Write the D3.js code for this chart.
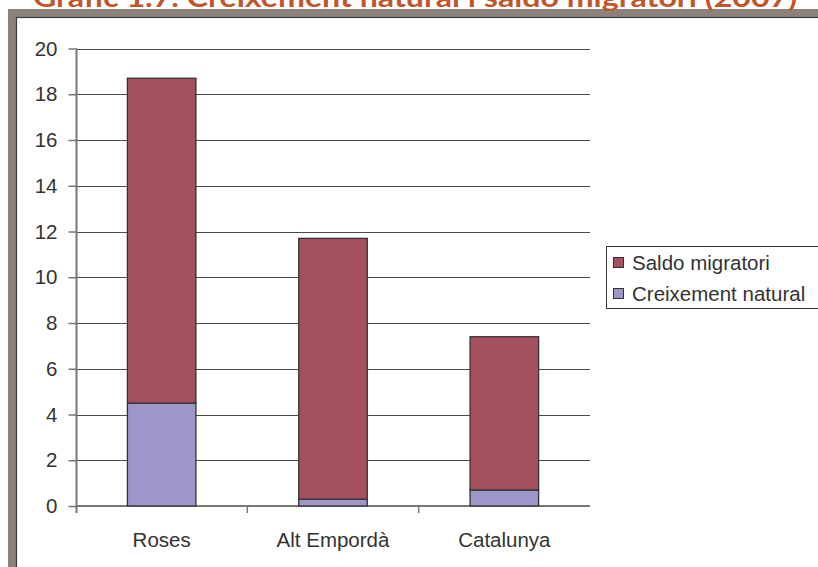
<!DOCTYPE html>
<html>
<head>
<meta charset="utf-8">
<script src="https://cdn.jsdelivr.net/npm/d3@7"></script>
<style>
  html, body { margin: 0; padding: 0; background: #fff; overflow: hidden; }
  svg { display: block; }
</style>
</head>
<body>
<svg id="chart" width="818" height="567"></svg>
<script>
// Data
const categories = ['Roses', 'Alt Empordà', 'Catalunya'];
const creixementNatural = [4.5, 0.3, 0.7];
const saldoMigratori = [14.2, 11.4, 6.7];
const yTicks = [0, 2, 4, 6, 8, 10, 12, 14, 16, 18, 20];
const seriesNames = ['Saldo migratori', 'Creixement natural'];
const title = 'Gràfic 1.7. Creixement natural i saldo migratori (2007)';

const colors = { saldo: '#a5505f', creix: '#9c96c9' };

const svg = d3.select('#chart');
const width = 818;
const height = 567;

// Frame
svg.append('rect')
    .attr('x', 8).attr('y', 9)
    .attr('width', width).attr('height', height)
    .attr('fill', '#8e807b');

svg.append('rect')
    .attr('x', 16.5).attr('y', 17.5)
    .attr('width', width).attr('height', height)
    .attr('fill', '#fff')
    .attr('stroke', '#3c3c3c')
    .attr('stroke-width', 1.2);

// Title (clipped at the top in the original)
svg.append('text')
    .attr('x', 33)
    .attr('y', 7)
    .attr('textLength', 764)
    .attr('lengthAdjust', 'spacingAndGlyphs')
    .style('font', 'bold 26px Lato, "Open Sans", sans-serif')
    .style('fill', '#c0562c')
    .text(title);

// Plot area
const margin = { left: 76, top: 48.5, right: 590, bottom: 506 };

const x = d3.scaleBand()
    .domain(categories)
    .range([margin.left, margin.right])
    .padding(0);

const y = d3.scaleLinear()
    .domain([0, 20])
    .range([margin.bottom, margin.top]);

const font = '20.5px "Liberation Sans", Arial, sans-serif';
const textColor = '#333';

// Gridlines
svg.append('g')
    .selectAll('line')
    .data(yTicks.filter(d => d > 0))
    .enter()
    .append('line')
    .attr('x1', margin.left)
    .attr('x2', margin.right)
    .attr('y1', d => Math.round(y(d)) + 0.5)
    .attr('y2', d => Math.round(y(d)) + 0.5)
    .attr('stroke', '#4a4a4a')
    .attr('stroke-width', 1);

// Y axis
const yAxis = svg.append('g')
    .attr('transform', `translate(${margin.left + 0.5},0)`)
    .call(d3.axisLeft(y).tickValues(yTicks).tickSize(8).tickPadding(11));
yAxis.select('.domain').attr('stroke', '#777').attr('stroke-width', 2)
    .attr('d', `M0,${margin.top}V${margin.bottom + 7}`);
yAxis.selectAll('.tick line').attr('stroke', '#777').attr('stroke-width', 1.5);
yAxis.selectAll('.tick text').style('font', font).style('fill', textColor);

// X axis
const xAxis = svg.append('g')
    .attr('transform', `translate(0,${margin.bottom})`)
    .call(d3.axisBottom(x).tickSize(0).tickPadding(26));
xAxis.select('.domain').attr('stroke', '#777').attr('stroke-width', 2)
    .attr('d', `M${margin.left},0H${margin.right}`);
xAxis.selectAll('.tick text').style('font', font).style('fill', textColor);

// Category separators
svg.append('g')
    .selectAll('line')
    .data(categories.slice(1))
    .enter()
    .append('line')
    .attr('x1', d => x(d))
    .attr('x2', d => x(d))
    .attr('y1', margin.bottom)
    .attr('y2', margin.bottom + 7)
    .attr('stroke', '#777')
    .attr('stroke-width', 1.5);

// Bars
const barW = x.bandwidth() * 0.4;
const stackData = categories.map((c, i) => ({
    cat: c, creix: creixementNatural[i], saldo: saldoMigratori[i],
}));
const stack = d3.stack().keys(['creix', 'saldo'])(stackData);

svg.append('g')
    .selectAll('g')
    .data(stack)
    .enter()
    .append('g')
    .attr('fill', d => colors[d.key])
    .selectAll('rect')
    .data(d => d)
    .enter()
    .append('rect')
    .attr('x', d => x(d.data.cat) + (x.bandwidth() - barW) / 2)
    .attr('y', d => y(d[1]))
    .attr('width', barW)
    .attr('height', d => y(d[0]) - y(d[1]))
    .attr('stroke', '#333')
    .attr('stroke-width', 1.3);

// Legend
const legend = svg.append('g').attr('transform', 'translate(606,246)');
legend.append('rect')
    .attr('x', 0.5).attr('y', 0.5)
    .attr('width', 240).attr('height', 62)
    .attr('fill', '#fff')
    .attr('stroke', '#333');

const legendItems = [
    { name: seriesNames[0], color: colors.saldo },
    { name: seriesNames[1], color: colors.creix },
];
const item = legend.selectAll('.item')
    .data(legendItems)
    .enter()
    .append('g')
    .attr('class', 'item')
    .attr('transform', (d, i) => `translate(0,${17 + i * 31})`);
item.append('rect')
    .attr('x', 7.5).attr('y', -5.5)
    .attr('width', 10).attr('height', 10)
    .attr('fill', d => d.color)
    .attr('stroke', '#333');
item.append('text')
    .attr('x', 26)
    .attr('y', 0)
    .attr('dy', '0.35em')
    .style('font', font)
    .style('fill', textColor)
    .text(d => d.name);
</script>
</body>
</html>
